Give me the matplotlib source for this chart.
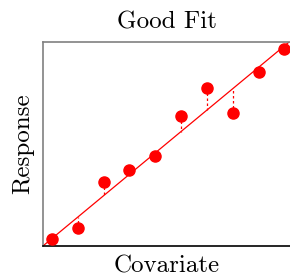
import matplotlib
matplotlib.use("Agg")
import matplotlib.pyplot as plt
import numpy as np

plt.rcParams['font.family'] = ['cmr10', 'DejaVu Serif']
plt.rcParams['axes.formatter.use_mathtext'] = True

covariate = [1, 2, 3, 4, 5, 6, 7, 8, 9, 10]
response = [0.98, 1.49, 3.64, 4.20, 4.86, 6.72, 8.03, 6.86, 8.78, 9.86]
fit_line_x = [0.65, 10.25]

fig = plt.figure(figsize=(2.9, 2.77), dpi=100)
ax = fig.add_axes([0.148, 0.112, 0.852, 0.736])

xs = np.array(covariate, dtype=float)
ys = np.array(response, dtype=float)
fit = xs  # fitted line y = x
ax.plot(fit_line_x, fit_line_x, color='red', lw=0.9, zorder=2, clip_on=True)
for x, y, f in zip(xs, ys, fit):
    ax.plot([x, x], [y, f], color='red', lw=0.9, ls=(0, (2, 2)), zorder=2)
ax.plot(xs, ys, 'o', color='red', ms=8, zorder=3)

ax.set_xlim(0.65, 10.22)
ax.set_ylim(0.65, 10.18)
ax.set_xticks([])
ax.set_yticks([])
ax.spines['right'].set_visible(False)
ax.spines['top'].set_color('#808080')
ax.spines['left'].set_color('#808080')
ax.spines['bottom'].set_color('black')
for s in ['top', 'left', 'bottom']:
    ax.spines[s].set_linewidth(1.2)

ax.set_title('Good Fit', fontsize=18, pad=10)
ax.set_xlabel('Covariate', fontsize=18, labelpad=7)
ax.set_ylabel('Response', fontsize=18, labelpad=6)

fig.savefig('out.png', dpi=100)
